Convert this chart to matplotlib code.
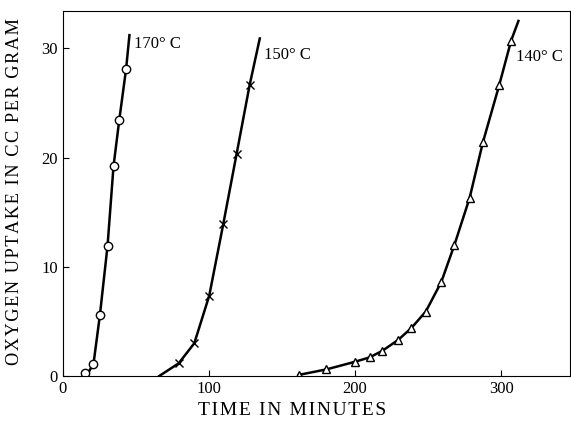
import matplotlib
matplotlib.use('Agg')
import matplotlib.pyplot as plt

plt.rcParams['font.family'] = ['Liberation Serif', 'DejaVu Serif']

# 170 C (circles)
t170 = [14.9, 21.0, 25.4, 30.6, 34.7, 38.6, 43.3]
o170 = [0.25, 1.1, 5.6, 11.9, 19.2, 23.4, 28.1]
# drawn curve ends
line170_x = [16.0, 21.0, 25.4, 30.6, 34.7, 38.6, 43.3, 45.6]
line170_y = [0.0, 1.1, 5.6, 11.9, 19.2, 23.4, 28.1, 31.2]

# 150 C (crosses)
t150 = [79.3, 90.0, 100.2, 109.8, 118.9, 127.8]
o150 = [1.16, 3.0, 7.35, 13.9, 20.3, 26.6]
line150_x = [66.0, 79.3, 90.0, 100.2, 109.8, 118.9, 127.8, 134.8]
line150_y = [0.0, 1.16, 3.0, 7.35, 13.9, 20.3, 26.6, 30.9]

# 140 C (triangles)
t140 = [161.4, 180.3, 199.9, 209.9, 218.6, 229.5, 238.6, 248.4, 259.0,
        268.0, 278.4, 287.5, 298.6, 306.8]
o140 = [0.1, 0.6, 1.3, 1.7, 2.3, 3.3, 4.4, 5.9, 8.6,
        12.0, 16.3, 21.4, 26.6, 30.7]
line140_x = t140 + [311.8]
line140_y = o140 + [32.5]

def spaced(s):
    return '\u200a'.join(s)

fig = plt.figure(figsize=(5.71, 4.28), dpi=100)
ax = fig.add_axes([0.110, 0.1215, 0.888, 0.8525])

ax.plot(line170_x, line170_y, 'k-', linewidth=1.8)
ax.plot(line150_x, line150_y, 'k-', linewidth=1.8)
ax.plot(line140_x, line140_y, 'k-', linewidth=1.8)

ax.plot(t170, o170, 'o', ms=6, mfc='white', mec='black', mew=1.0)
ax.plot(t150, o150, 'x', ms=6, mfc='white', mec='black', mew=1.0)
ax.plot(t140, o140, '^', ms=6, mfc='white', mec='black', mew=1.0)

ax.text(48.8, 30.4, '170° C', fontsize=12, va='center', ha='left')
ax.text(137.5, 29.4, '150° C', fontsize=12, va='center', ha='left')
ax.text(310.0, 29.2, '140° C', fontsize=12, va='center', ha='left')

ax.set_xlim(0, 347)
ax.set_ylim(0, 33.4)
ax.set_xticks([0, 100, 200, 300])
ax.set_yticks([0, 10, 20, 30])
ax.tick_params(direction='in', length=4, labelsize=12)

ax.set_xlabel(spaced('TIME IN MINUTES'), fontsize=14)
ax.set_ylabel(spaced('OXYGEN UPTAKE IN CC PER GRAM'), fontsize=13.2)
ax.xaxis.set_label_coords(0.452, -0.072)
ax.yaxis.set_label_coords(-0.078, 0.505)

fig.savefig('out.png', dpi=100)
